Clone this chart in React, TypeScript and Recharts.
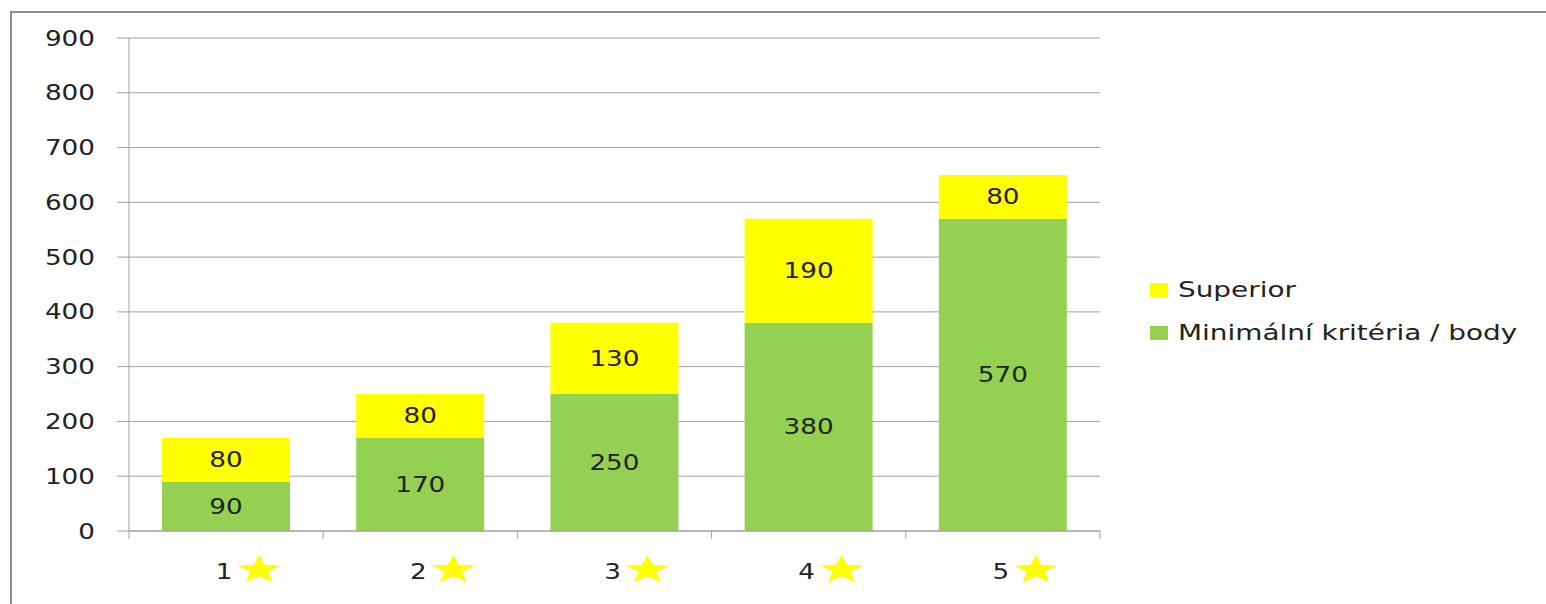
import React from 'react';
import {
  BarChart, Bar, XAxis, YAxis, CartesianGrid, Legend, LabelList,
} from 'recharts';

const categories = ['1', '2', '3', '4', '5'];
const minimalValues = [90, 170, 250, 380, 570];
const superiorValues = [80, 80, 130, 190, 80];
const yTicks = [0, 100, 200, 300, 400, 500, 600, 700, 800, 900];

const data = categories.map((c, i) => ({
  cat: c,
  minimal: minimalValues[i],
  superior: superiorValues[i],
}));

const W = 1546;
const H = 604;
const PLOT_LEFT = 129;
const PLOT_RIGHT = 1100;
const LEGEND_W = 390;
const HALF_BAND = (PLOT_RIGHT - PLOT_LEFT) / categories.length / 2;
const FONT = '"DejaVu Sans", Verdana, sans-serif';
const TEXT = '#222';
const AXIS = '#a0a0a0';
const GREEN = '#94d152';
const YELLOW = '#ffff00';
const SX = 1.28;

const StretchText = ({ x, y, anchor, children, size = 20.5 }: any) => (
  <text
    transform={`translate(${x} ${y}) scale(${SX} 1)`}
    textAnchor={anchor}
    fontFamily={FONT}
    fontSize={size}
    fill={TEXT}
  >
    {children}
  </text>
);

const YTick = (props: any) => {
  const { x, y, payload } = props;
  return <StretchText x={x} y={y + 7.5} anchor="end">{payload.value}</StretchText>;
};

const Star = ({ cx, cy }: any) => {
  const pts: string[] = [];
  for (let k = 0; k < 10; k++) {
    const r = k % 2 === 0 ? 15 : 6.3;
    const a = -Math.PI / 2 + (k * Math.PI) / 5;
    pts.push(`${(cx + r * Math.cos(a) * 1.52).toFixed(2)},${(cy + r * Math.sin(a)).toFixed(2)}`);
  }
  return <polygon points={pts.join(' ')} fill={YELLOW} />;
};

const XTick = (props: any) => {
  const { x, y, payload, index } = props;
  return (
    <g>
      <line x1={x - HALF_BAND} x2={x - HALF_BAND} y1={y} y2={y + 8} stroke={AXIS} />
      {index === categories.length - 1 && (
        <line x1={x + HALF_BAND} x2={x + HALF_BAND} y1={y} y2={y + 8} stroke={AXIS} />
      )}
      <StretchText x={x - 2} y={y + 48} anchor="middle">{payload.value}</StretchText>
      <Star cx={x + 33} cy={y + 39} />
    </g>
  );
};

const SegLabel = (props: any) => {
  const { x, y, width, height, value } = props;
  return (
    <StretchText x={x + width / 2} y={y + height / 2 + 7.5} anchor="middle">
      {value}
    </StretchText>
  );
};

const LegendBox = (props: any) => {
  const items = [...(props.payload || [])].reverse();
  return (
    <div style={{ fontFamily: FONT, fontSize: 20.5, color: TEXT }}>
      {items.map((it: any) => (
        <div key={it.value} style={{ display: 'flex', alignItems: 'center', height: 43 }}>
          <div style={{ width: 18, height: 14, background: it.color, marginRight: 10 }} />
          <span style={{ display: 'inline-block', transform: 'scale(1.36, 1)', transformOrigin: 'left center', whiteSpace: 'nowrap' }}>
            {it.value}
          </span>
        </div>
      ))}
    </div>
  );
};

export default function App() {
  return (
    <div style={{ position: 'absolute', left: 0, top: 0, width: W, height: H, background: '#fff', overflow: 'hidden' }}>
      <div
        style={{
          position: 'absolute', left: 10, top: 11, width: W, height: H,
          borderLeft: '2px solid #8e8e8e', borderTop: '2px solid #8e8e8e',
        }}
      />
      <BarChart
        width={W}
        height={H}
        data={data}
        margin={{ top: 38, right: W - PLOT_RIGHT - LEGEND_W, bottom: 13, left: 0 }}
        barCategoryGap="17%"
        style={{ position: 'absolute', left: 0, top: 0 }}
      >
        <CartesianGrid vertical={false} stroke={AXIS} strokeWidth={1} />
        <YAxis
          width={PLOT_LEFT}
          domain={[0, 900]}
          ticks={yTicks}
          interval={0}
          tickSize={12}
          tickMargin={22}
          stroke={AXIS}
          tick={<YTick />}
        />
        <XAxis
          dataKey="cat"
          height={60}
          tickSize={0}
          tickMargin={0}
          tickLine={false}
          stroke={AXIS}
          tick={<XTick />}
          interval={0}
        />
        <Legend
          layout="vertical"
          verticalAlign="top"
          align="right"
          content={<LegendBox />}
          wrapperStyle={{ position: 'absolute', left: 1150, top: 268, width: LEGEND_W }}
        />
        <Bar dataKey="minimal" name="Minimální kritéria / body" stackId="a" fill={GREEN} isAnimationActive={false}>
          <LabelList dataKey="minimal" content={<SegLabel />} />
        </Bar>
        <Bar dataKey="superior" name="Superior" stackId="a" fill={YELLOW} isAnimationActive={false}>
          <LabelList dataKey="superior" content={<SegLabel />} />
        </Bar>
      </BarChart>
    </div>
  );
}
